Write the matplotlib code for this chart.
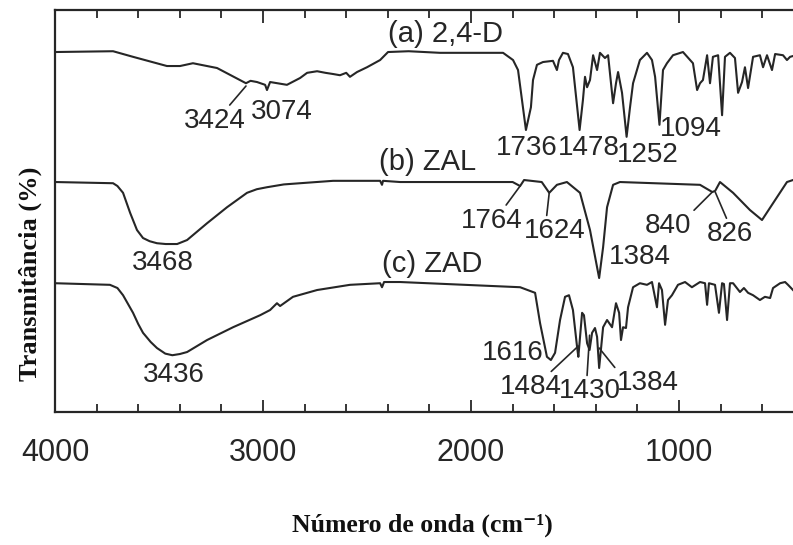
import matplotlib
matplotlib.use("Agg")
import matplotlib.pyplot as plt
from matplotlib.ticker import MultipleLocator

plt.rcParams["font.family"] = ["Liberation Sans", "DejaVu Sans"]

# FTIR spectra (wavenumber in cm-1, transmittance in offset arbitrary units)
wn_a = [4000, 3721, 3625, 3462, 3399, 3337, 3221, 3082, 3060, 3029, 2990, 2981,
        2966, 2885, 2822, 2788, 2740, 2700, 2663, 2630, 2600, 2582, 2548, 2500,
        2437, 2399, 2300, 2149, 1846, 1798, 1774, 1736, 1712, 1702, 1683, 1654,
        1606, 1587, 1577, 1558, 1534, 1510, 1478, 1462, 1452, 1442, 1428, 1413,
        1394, 1380, 1356, 1341, 1317, 1303, 1293, 1274, 1252, 1236, 1221, 1188,
        1154, 1130, 1115, 1094, 1077, 1058, 1029, 981, 933, 913, 899, 885, 865,
        851, 837, 812, 793, 779, 755, 731, 716, 697, 683, 668, 644, 611, 596,
        577, 553, 538, 500, 481, 466, 452]
t_a = [90, 90.2, 88.8, 86.5, 86.5, 87.2, 86, 82.2, 82.8, 82.5, 81.8, 80.5,
       82.5, 81.8, 83.5, 84.8, 85.2, 84.8, 84.5, 84.2, 84.8, 83.8, 85, 86.2,
       88, 90, 90.2, 89.8, 89.8, 88, 85.5, 70.5, 76.2, 83, 86.8, 87.5,
       87.8, 85.5, 88, 89.8, 89.5, 86.2, 70.5, 78, 83.8, 81.2, 83, 89.2,
       85.5, 89.8, 88.5, 89.2, 77.2, 82.2, 85, 79.8, 68.8, 76, 82.2, 88,
       89.8, 88, 83.8, 71.8, 85.5, 87.2, 89.2, 90, 87.2, 80.5, 82.2, 83, 89.2,
       82.2, 88.8, 89.2, 74.2, 88.8, 89.8, 88.5, 79.8, 82.5, 86.2, 81, 88.8,
       89.2, 86.2, 89.2, 85.5, 89.5, 89.2, 88, 88.8, 89]

wn_b = [4000, 3721, 3700, 3673, 3639, 3606, 3577, 3545, 3510, 3468, 3413, 3365,
        3269, 3173, 3077, 3030, 2981, 2900, 2822, 2663, 2437, 2428, 2423, 2341,
        1800, 1764, 1745, 1660, 1624, 1587, 1539, 1476, 1428, 1394, 1384, 1365,
        1346, 1317, 1284, 899, 840, 826, 803, 740, 659, 601, 548, 481, 452]
t_b = [57.5, 57.2, 56.5, 54.8, 49.8, 45.5, 43.5, 42.7, 42.2, 42, 42, 43,
       47.2, 51.2, 54.8, 55.7, 56.2, 56.9, 57.2, 57.8, 57.8, 56.8, 57.8, 57.5,
       57.5, 56.5, 58, 57.5, 54.8, 56.8, 57.5, 54.8, 45.5, 36.2, 33.5, 41.2,
       51.2, 56.8, 57.5, 56.8, 55, 55.3, 57.5, 54.8, 50.5, 48, 52.2, 57.5, 58]

wn_c = [4000, 3736, 3700, 3673, 3625, 3600, 3577, 3540, 3510, 3470, 3436, 3400,
        3365, 3269, 3144, 3014, 2966, 2933, 2918, 2856, 2740, 2582, 2437, 2428,
        2418, 2341, 1764, 1692, 1668, 1635, 1616, 1596, 1572, 1548, 1529, 1510,
        1490, 1484, 1466, 1457, 1442, 1430, 1418, 1404, 1394, 1384, 1365, 1346,
        1322, 1303, 1288, 1279, 1269, 1255, 1245, 1221, 1188, 1154, 1130, 1106,
        1096, 1082, 1067, 1053, 1034, 1005, 971, 938, 899, 875, 865, 856, 827,
        808, 793, 784, 769, 755, 740, 707, 688, 668, 644, 611, 587, 562, 548,
        514, 490, 476, 452]
t_c = [32.2, 31.8, 31.0, 29.2, 24.8, 22.0, 19.8, 17.5, 16, 14.6, 14.2, 14.5,
       15, 18, 21.2, 24.2, 25.5, 27.2, 26.5, 28.8, 30.5, 31.8, 32.2, 31.2,
       32.5, 32.5, 31.2, 29.8, 22.2, 13.8, 13, 14.8, 23, 28.8, 29.2, 25.5,
       16.2, 13.8, 24.8, 24.2, 17.2, 15.5, 19.8, 21, 18.8, 11, 21.2, 23,
       21.2, 27.2, 24.8, 18, 21.2, 21, 26.2, 31.2, 32.2, 31.8, 32.5, 26.2,
       32.2, 30.5, 21.8, 28, 29.2, 31.8, 32.5, 31.2, 32.5, 32.2, 26.8, 32.2, 31.8,
       24.8, 32.2, 32, 23, 32.2, 32.2, 30, 31, 29.8, 29.2, 28, 28.8, 28.5, 31,
       32.2, 32.5, 31.8, 30.5]

series_names = ["(a) 2,4-D", "(b) ZAL", "(c) ZAD"]
name_pos = [(2125, 94.5), (2207, 62.5), (2187, 37.0)]

# band labels: text, band position (x, y), text position, leader anchor on text
bands = [
    ("3424", (3082, 81.5), (3231, 72.8), (0.7, 1.0)),
    ("3074", None, (2909, 75.0), None),
    ("1736", None, (1731, 66.0), None),
    ("1478", None, (1433, 66.0), None),
    ("1252", None, (1149, 64.2), None),
    ("1094", None, (942, 70.8), None),
    ("1764", (1764, 56.5), (1899, 47.8), (0.68, 0.95)),
    ("1624", (1624, 54.8), (1596, 45.2), (0.36, 1.0)),
    ("1384", None, (1188, 38.8), None),
    ("840", (840, 55.0), (1053, 46.5), (1.0, 1.0)),
    ("826", (826, 55.0), (755, 44.5), (0.45, 1.0)),
    ("3468", None, (3481, 37.2), None),
    ("3436", None, (3428, 9.2), None),
    ("1616", None, (1798, 14.8), None),
    ("1484", (1484, 16.5), (1712, 6.2), (0.78, 1.0)),
    ("1430", (1430, 19.2), (1428, 5.2), (0.45, 1.0)),
    ("1384", (1384, 16.0), (1149, 7.2), (0.0, 1.0)),
]

ink = "#262626"

fig = plt.figure(figsize=(7.93, 5.45), dpi=100)
ax = fig.add_axes([0.0694, 0.244, 0.9306, 0.7376])

for wn, t in [(wn_a, t_a), (wn_b, t_b), (wn_c, t_c)]:
    ax.plot(wn, t, color=ink, lw=1.5, solid_joinstyle="round")

for name, (x, y) in zip(series_names, name_pos):
    ax.text(x, y, name, fontsize=21, color=ink, ha="center", va="center")

for label, tip, pos, rel in bands:
    if tip is None:
        ax.text(pos[0], pos[1], label, fontsize=20, color=ink,
                ha="center", va="center")
    else:
        ax.annotate(label, xy=tip, xytext=pos, fontsize=20, color=ink,
                    ha="center", va="center",
                    arrowprops=dict(arrowstyle="-", color=ink, lw=1.2,
                                    relpos=rel, shrinkA=0, shrinkB=0))

ax.set_xlim(4000, 452)
ax.set_ylim(0, 100.5)
ax.xaxis.set_major_locator(MultipleLocator(1000))
ax.xaxis.set_minor_locator(MultipleLocator(200))
ax.tick_params(axis="x", which="both", direction="in", top=True,
               color=ink, width=1.3, labelsize=22, labelcolor=ink, pad=19)
ax.tick_params(axis="x", which="major", length=9)
ax.tick_params(axis="x", which="minor", length=6)
ax.set_yticks([])
ax.spines["right"].set_visible(False)
for side in ["left", "bottom", "top"]:
    ax.spines[side].set_color(ink)
    ax.spines[side].set_linewidth(1.6)

fig.text(0.532, 1 - 525 / 545, "Número de onda (cm⁻¹)",
         family=["Liberation Serif", "DejaVu Serif"], fontweight="bold",
         fontsize=18.5, ha="center", va="center", color="#111111")
fig.text(30 / 793, 1 - 274 / 545, "Transmitância (%)",
         family="Liberation Serif", fontweight="bold", fontsize=19,
         rotation=90, ha="center", va="center", color="#111111")

fig.savefig("out.png", dpi=100)
